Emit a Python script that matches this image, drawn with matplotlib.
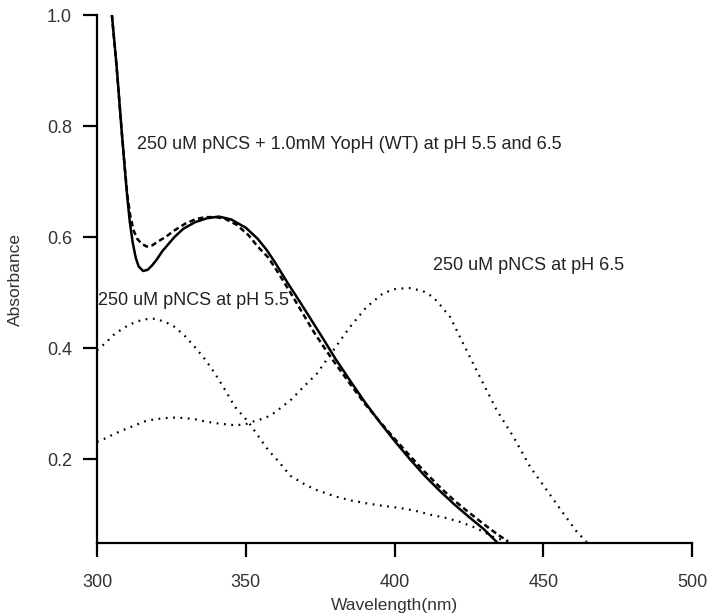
import matplotlib
matplotlib.use('Agg')
import matplotlib.pyplot as plt

plt.rcParams['font.family'] = ['Liberation Sans', 'DejaVu Sans']

# YopH (WT) + pNCS, pH 5.5 (solid) and pH 6.5 (dashed)
wl_solid = [305, 306.6, 308.3, 309.3, 310.2, 311, 312, 313, 314, 315.5, 317, 318.5, 320, 322, 326, 329, 333,
            337, 341, 345, 350, 354, 357, 360, 364, 368, 372, 376, 380, 385, 390, 395, 400,
            405, 410, 415, 420, 425, 430, 434.5]
abs_solid = [1.0, 0.907, 0.79, 0.725, 0.67, 0.628, 0.59, 0.563, 0.547, 0.539, 0.541, 0.549, 0.559, 0.575, 0.6, 0.615, 0.627,
             0.634, 0.637, 0.632, 0.617, 0.597, 0.577, 0.553, 0.518, 0.485, 0.451, 0.417, 0.382, 0.342, 0.303, 0.267, 0.233,
             0.201, 0.171, 0.144, 0.119, 0.096, 0.074, 0.05]

wl_dash = [305, 306.6, 308.3, 309.3, 310.2, 311.2, 312.3, 313.5, 315, 316.7, 318.5, 320.5, 323, 326, 329.6, 333,
           336.3, 340, 343, 347, 351, 354, 357.6, 361, 365, 369, 373, 377, 380, 385, 390, 395,
           400, 405, 410, 415, 420, 425, 430, 435, 438.2]
abs_dash = [1.0, 0.905, 0.79, 0.727, 0.675, 0.638, 0.612, 0.597, 0.588, 0.583, 0.585, 0.592, 0.6, 0.612, 0.624, 0.632,
            0.636, 0.636, 0.633, 0.622, 0.603, 0.583, 0.563, 0.535, 0.5, 0.464, 0.428, 0.396, 0.373, 0.336, 0.3, 0.268,
            0.237, 0.207, 0.178, 0.151, 0.126, 0.104, 0.083, 0.063, 0.052]

# pNCS alone
wl_55 = [300, 303, 306, 309.5, 312.8, 316, 319.5, 323, 326.2, 329.5, 332.9, 336.3, 339.7, 343, 346.4,
         350.9, 354, 357.6, 361, 365, 370, 374, 380, 385, 390, 396, 402, 407, 412, 417.5, 422,
         426.5, 430, 433.2, 437, 440]
abs_55 = [0.396, 0.41, 0.426, 0.438, 0.447, 0.452, 0.453, 0.447, 0.438, 0.422, 0.402, 0.38, 0.354, 0.325, 0.294,
          0.267, 0.243, 0.216, 0.196, 0.17, 0.154, 0.144, 0.133, 0.126, 0.121, 0.116, 0.112, 0.107, 0.1, 0.094, 0.087,
          0.078, 0.069, 0.06, 0.053, 0.05]

wl_65 = [300, 303, 306, 309.5, 312.8, 316, 319.5, 323, 326.2, 329.5, 332.9, 336.3, 339.7, 343, 346.4,
         350, 353.1, 356.5, 359.8, 362.6, 365.4, 369, 373.9, 379.4, 385, 390.6, 396.2, 400.5, 405.2,
         409.5, 413, 415.3, 418.7, 423.1, 428.7, 434.4, 440, 445.6, 451.2, 456.8, 461.3, 464.6]
abs_65 = [0.231, 0.238, 0.246, 0.254, 0.261, 0.268, 0.272, 0.274, 0.275, 0.274, 0.272, 0.268, 0.265, 0.263, 0.261,
          0.263, 0.269, 0.274, 0.284, 0.296, 0.308, 0.328, 0.354, 0.396, 0.438, 0.474, 0.499, 0.507, 0.508,
          0.503, 0.492, 0.478, 0.456, 0.408, 0.348, 0.288, 0.24, 0.186, 0.144, 0.102, 0.069, 0.051]

fig = plt.figure(figsize=(7.14, 6.16), dpi=100)
ax = fig.add_axes([0.1359, 0.1185, 0.8333, 0.8571])

ax.plot(wl_55, abs_55, color='black', lw=1.6, linestyle=(0, (0.8, 2.5)))
ax.plot(wl_65, abs_65, color='black', lw=1.6, linestyle=(0, (0.8, 2.5)))
ax.plot(wl_dash, abs_dash, color='black', lw=1.8, linestyle=(0, (2.2, 1.4)))
ax.plot(wl_solid, abs_solid, color='black', lw=1.8)

ax.set_xlim(300, 500)
ax.set_ylim(0.049, 1.0)
ax.set_xticks([300, 350, 400, 450, 500])
ax.set_yticks([0.2, 0.4, 0.6, 0.8, 1.0])
ax.set_yticklabels(['0.2', '0.4', '0.6', '0.8', '1.0'])

for s in ['top', 'right']:
    ax.spines[s].set_visible(False)
for s in ['left', 'bottom']:
    ax.spines[s].set_linewidth(1.6)
ax.tick_params(direction='out', length=10, width=1.6, labelsize=13, colors='black', labelcolor='#333333')
ax.tick_params(axis='x', pad=12)
ax.tick_params(axis='y', pad=8)

ax.set_xlabel('Wavelength(nm)', fontsize=12.5, color='#333333', labelpad=5)
ax.set_ylabel('Absorbance', fontsize=12.5, color='#333333', labelpad=17)

tc = '#222222'
ax.text(313.4, 0.766, '250 uM pNCS + 1.0mM YopH (WT) at pH 5.5 and 6.5', fontsize=13, color=tc, va='center')
ax.text(300.3, 0.486, '250 uM pNCS at pH 5.5', fontsize=13, color=tc, va='center')
ax.text(412.9, 0.548, '250 uM pNCS at pH 6.5', fontsize=13, color=tc, va='center')

fig.savefig('out.png', dpi=100)
